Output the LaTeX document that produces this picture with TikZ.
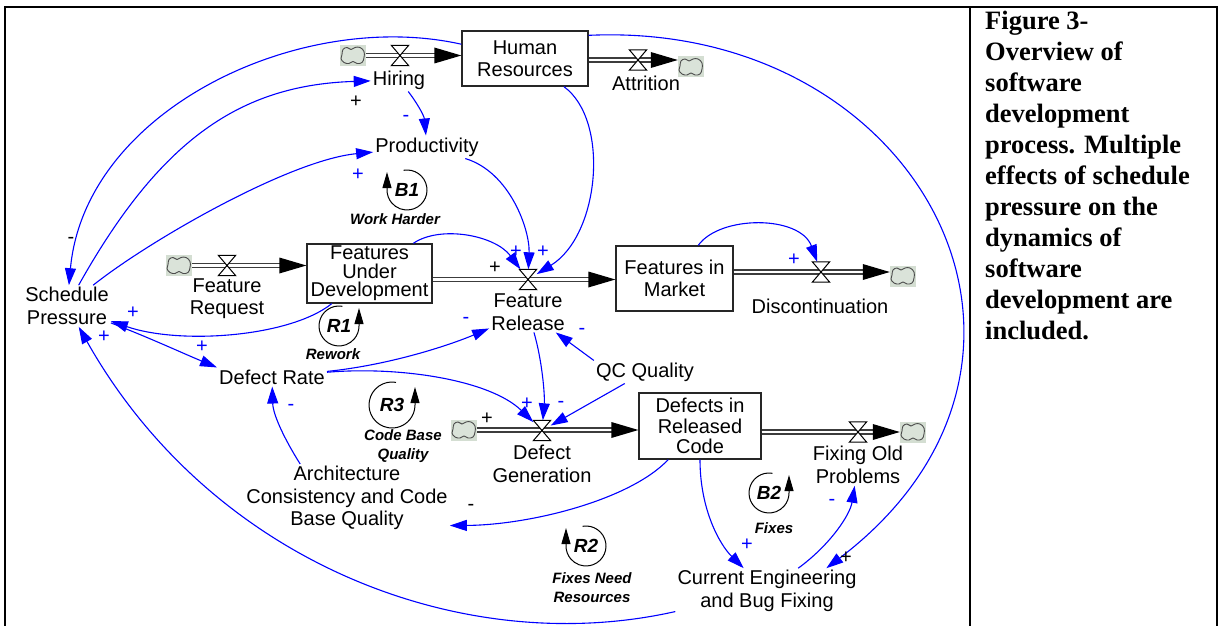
\documentclass[tikz,border=0pt]{standalone}
\usepackage{fontspec}
\setmainfont{Liberation Sans}
\newfontfamily\capfont{Liberation Serif}
\usetikzlibrary{arrows.meta,calc}
\definecolor{linkblue}{RGB}{0,0,255}
\definecolor{cloudbg}{RGB}{212,222,210}
\definecolor{pipegray}{RGB}{60,60,60}
\begin{document}
\begin{tikzpicture}[x=1pt,y=-1pt,
  stock/.style={draw=black!85, line width=1.3pt, fill=white, align=center, inner sep=0pt, font=\fontsize{20}{22}\selectfont},
  aux/.style={align=center, inner sep=2pt, font=\fontsize{20}{22.5}\selectfont},
  valvebox/.style={minimum width=17pt, minimum height=20pt, inner sep=0pt},
  valveline/.style={draw=black, line width=1pt, fill=white, line join=miter},
  cloudbox/.style={fill=cloudbg, minimum width=26pt, minimum height=21pt, inner sep=0pt},
  cloudline/.style={draw=black!70, line width=0.9pt, fill=cloudbg!85!white},
  pipe/.style={draw=pipegray, line width=1.3pt, double=white, double distance=2.6pt},
  pipehead/.style={fill=black},
  link/.style={draw=linkblue, line width=1.1pt, -{Triangle[length=17pt,width=11pt]}},
  psign/.style={text=linkblue, font=\fontsize{20}{20}\selectfont, inner sep=0pt},
  ksign/.style={text=black, font=\fontsize{20}{20}\selectfont, inner sep=0pt},
  loopline/.style={draw=black, line width=1pt, -{Triangle[length=16pt,width=9pt]}},
  loopid/.style={font=\fontsize{19}{19}\selectfont\bfseries\itshape, inner sep=0pt},
  loopname/.style={font=\fontsize{15}{18.5}\selectfont\bfseries\itshape, align=center, inner sep=0pt},
  caption/.style={font=\capfont\bfseries\fontsize{26.5}{30.9}\selectfont, anchor=base west, inner sep=0pt},
  frame/.style={draw=black, line width=2pt}
]
\useasboundingbox (0,0) rectangle (1219,626);
% frame
\draw[frame] (5,626) -- (5,7) -- (1217,7) -- (1217,626);
\draw[frame] (970,7) -- (970,626);

% caption
\foreach \txt [count=\n from 0] in {Figure 3-, Overview of, software, development, {process. Multiple}, {effects of schedule}, {pressure on the}, {dynamics of}, software, {development are}, included.}
  \node[caption] (cap\n) at (985, 30+30.9*\n) {\txt};

% stocks
\node[stock, minimum width=126pt, minimum height=55pt] (hr) at (525,58.5) {Human\\Resources};
\node[stock, minimum width=125pt, minimum height=59pt, font=\fontsize{20}{18.5}\selectfont] (fud) at (369.5,273.5) {Features\\Under\\Development};
\node[stock, minimum width=117pt, minimum height=65pt] (fim) at (674.5,278.5) {Features in\\Market};
\node[stock, minimum width=122pt, minimum height=66pt, font=\fontsize{20}{20.5}\selectfont] (drc) at (700,426) {Defects in\\Released\\Code};

% auxiliaries
\node[aux] (sp) at (67,306) {Schedule\\Pressure};
\node[aux] (prod) at (427,147) {Productivity};
\node[aux] (dr) at (272,377) {Defect Rate};
\node[aux] (qc) at (645,372) {QC Quality};
\node[aux] (arch) at (347,498) {Architecture\\Consistency and Code\\Base Quality};
\node[aux] (ce) at (767,591) {Current Engineering\\and Bug Fixing};

% flow labels
\node[aux] (hiring) at (399,80) {Hiring};
\node[aux] (attr) at (646,83) {Attrition};
\node[aux] (freq) at (227,298.5) {Feature\\Request};
\node[aux] (frel) at (528,312) {Feature\\Release};
\node[aux] (disc) at (820,306) {Discontinuation};
\node[aux] (dgen) at (542,464) {Defect\\Generation};
\node[aux] (fix) at (858,465) {Fixing Old\\Problems};

% clouds
\node[cloudbox] (c1) at (353,55.5) {};
\node[cloudbox] (c2) at (691,67) {};
\node[cloudbox] (c3) at (179,265.5) {};
\node[cloudbox] (c4) at (903,276) {};
\node[cloudbox] (c5) at (464,430) {};
\node[cloudbox] (c6) at (913,432) {};
\foreach \cl in {c1,c2,c3,c4,c5,c6}
  \draw[cloudline, shift={(\cl.center)}] plot[smooth cycle, tension=0.7] coordinates {(-11,-1) (-10,-6) (-6,-8) (-2,-6) (2,-8) (7,-8) (11,-4) (11,2) (9,7) (4,8) (0,6) (-4,8) (-9,7) (-12,3)};

% valves
\node[valvebox] (vh) at (400,55.5) {};
\node[valvebox] (va) at (638,60) {};
\node[valvebox] (vfr) at (227,265.5) {};
\node[valvebox] (vrel) at (528,279.5) {};
\node[valvebox] (vd) at (821,272) {};
\node[valvebox] (vdg) at (542,430.5) {};
\node[valvebox] (vf) at (858,432) {};

% pipes
\draw[pipe] (c1.east) -- ($(c1.east -| hr.west)+(-26,0)$);
\fill[pipehead] (c1.east -| hr.west) -- ++(-27,-8) -- ++(0,16) -- cycle;
\draw[pipe] (va -| hr.east) -- ($(va -| c2.west)+(-26,0)$);
\fill[pipehead] (va -| c2.west) -- ++(-27,-8) -- ++(0,16) -- cycle;
\draw[pipe] (c3.east) -- ($(c3.east -| fud.west)+(-26,0)$);
\fill[pipehead] (c3.east -| fud.west) -- ++(-27,-8) -- ++(0,16) -- cycle;
\draw[pipe] (vrel -| fud.east) -- ($(vrel -| fim.west)+(-26,0)$);
\fill[pipehead] (vrel -| fim.west) -- ++(-27,-8) -- ++(0,16) -- cycle;
\draw[pipe] (vd -| fim.east) -- ($(vd -| c4.west)+(-26,0)$);
\fill[pipehead] (vd -| c4.west) -- ++(-27,-8) -- ++(0,16) -- cycle;
\draw[pipe] (c5.east) -- ($(c5.east -| drc.west)+(-26,0)$);
\fill[pipehead] (c5.east -| drc.west) -- ++(-27,-8) -- ++(0,16) -- cycle;
\draw[pipe] (vf -| drc.east) -- ($(vf -| c6.west)+(-26,0)$);
\fill[pipehead] (vf -| c6.west) -- ++(-27,-8) -- ++(0,16) -- cycle;
\foreach \vv in {vh,va,vfr,vrel,vd,vdg,vf}
  \draw[valveline] (\vv.north west) -- (\vv.north east) -- (\vv.south west) -- (\vv.south east) -- cycle;

% causal links
\draw[link] (hr) .. controls (300,8) and (85,110) .. (sp);
\draw[link] (sp) .. controls (160,140) and (240,85) .. (hiring);
\draw[link] (sp) .. controls (150,240) and (290,160) .. (prod);
\draw[link] (hiring) .. controls (415,100) and (424,115) .. (prod);
\draw[link] (prod) .. controls (510,172) and (530,230) .. (vrel);
\draw[link] (hr) .. controls (610,120) and (600,235) .. (vrel);
\draw[link] (fud) .. controls (440,225) and (495,235) .. (vrel);
\draw[link] (fim) .. controls (720,215) and (800,215) .. (vd);
\draw[link] (fud) .. controls (290,337) and (180,345) .. (sp);
\draw[link] (sp) .. controls (150,338) and (180,352) .. (dr.north west);
\draw[link] (ce) .. controls (460,660) and (210,560) .. (sp);
\draw[link] (dr) .. controls (390,365) and (450,345) .. (frel);
\draw[link] (dr) .. controls (400,366) and (490,380) .. (vdg);
\draw[link] (frel) .. controls (542,360) and (545,395) .. (vdg);
\draw[link] (qc.north west) -- (frel);
\draw[link] (qc) -- (vdg);
\draw[link] (drc) .. controls (630,500) and (530,525) .. (arch.-15);
\draw[link] (arch.144) .. controls (285,440) and (273,415) .. (dr);
\draw[link] (drc) .. controls (700,510) and (720,545) .. (ce);
\draw[link] (ce) .. controls (830,545) and (850,515) .. (fix);
\draw[link] (hr.20) .. controls (920,20) and (1100,360) .. (ce.21);

% polarity signs
\node[ksign] (s1) at (71,240) {-};
\node[ksign] (s2) at (356,102) {+};
\node[psign] (s3) at (358,175) {+};
\node[psign] (s4) at (406,118) {-};
\node[psign] (s5) at (516,252) {+};
\node[psign] (s6) at (543,252) {+};
\node[ksign] (s7) at (495,268) {+};
\node[psign] (s8) at (794,260) {+};
\node[psign] (s9) at (133,313) {+};
\node[psign] (s10) at (104,337) {+};
\node[psign] (s11) at (202,347) {+};
\node[psign] (s12) at (466,320) {-};
\node[psign] (s13) at (582,331) {-};
\node[psign] (s14) at (527,404) {+};
\node[psign] (s15) at (561,404) {-};
\node[ksign] (s16) at (487,419) {+};
\node[psign] (s17) at (291,407) {-};
\node[ksign] (s18) at (471,507) {-};
\node[psign] (s19) at (747,545) {+};
\node[psign] (s20) at (832,502) {-};
\node[ksign] (s21) at (846,558) {+};

% loop identifiers
\node[loopid] (b1) at (407,190) {B1};
\draw[loopline] (b1.center) ++(-100:20) arc[start angle=-100, end angle=180, radius=20] -- ++(0,-18);
\node[loopname] (b1n) at (395,219) {Work Harder};
\node[loopid] (r1) at (339,326) {R1};
\draw[loopline] (r1.center) ++(-80:20) arc[start angle=-80, end angle=-360, radius=20] -- ++(0,-18);
\node[loopname] (r1n) at (333,354) {Rework};
\node[loopid] (r3) at (392,405) {R3};
\draw[loopline] (r3.center) ++(-80:23) arc[start angle=-80, end angle=-360, radius=23] -- ++(0,-18);
\node[loopname] (r3n) at (403,446) {Code Base\\Quality};
\node[loopid] (r2) at (586,546) {R2};
\draw[loopline] (r2.center) ++(-100:20) arc[start angle=-100, end angle=180, radius=20] -- ++(0,-18);
\node[loopname] (r2n) at (592,587.5) {Fixes Need\\Resources};
\node[loopid] (b2) at (769,493) {B2};
\draw[loopline] (b2.center) ++(-80:20) arc[start angle=-80, end angle=-360, radius=20] -- ++(0,-18);
\node[loopname] (b2n) at (774,528) {Fixes};
\end{tikzpicture}
\end{document}
